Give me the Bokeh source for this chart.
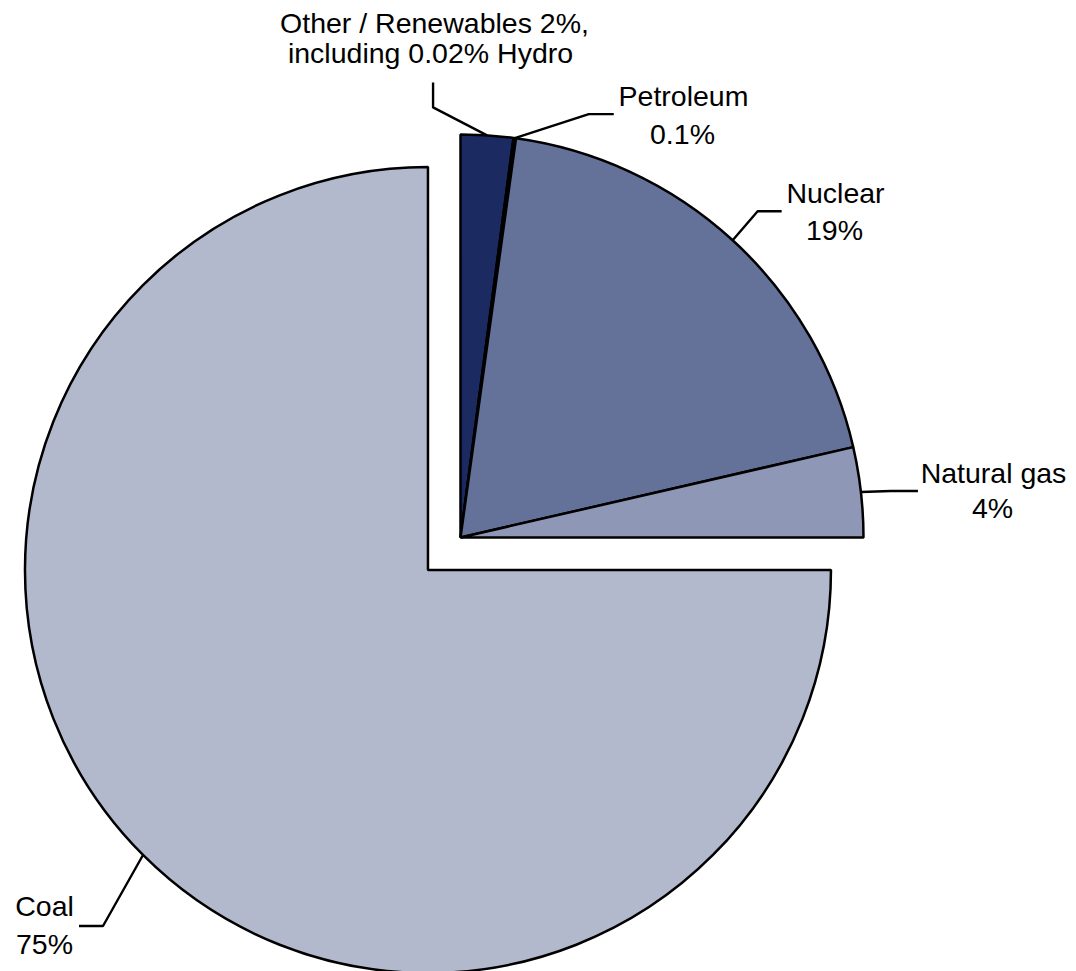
import math
from bokeh.plotting import figure
from bokeh.models import Range1d, ColumnDataSource
from bokeh.core.properties import value
from bokeh.embed import file_html
from bokeh.resources import INLINE

# ---- data (clockwise from 12 o'clock) ----
categories = ["Other / Renewables", "Petroleum", "Nuclear", "Natural gas", "Coal"]
shares = [2.1, 0.1, 19.2, 3.6, 75.0]
label_lines = [
    ["Other / Renewables 2%,", "including 0.02% Hydro"],
    ["Petroleum", "0.1%"],
    ["Nuclear", "19%"],
    ["Natural gas", "4%"],
    ["Coal", "75%"],
]

# ---- styling / layout ----
colors = ["#1B2B62", "#3E4B7D", "#647198", "#8E98B6", "#B3B9CD"]
explode = [0, 0, 0, 0, 46]
CX, CY, R = 460, -537, 403           # screen px, y = -screen_y
FONT = value("Liberation Sans")
FSIZE = "28.5px"
TEXT_SHIFT = -10
# leader offsets from anchor (screen px: dx, dy for elbow and end)
leader_off = [(-54, -28, -54, -53), (74, -24, 99, -24), (25, -29, 49, -29),
              (30, -1, 57, -1), (-40, 71, -64, 71)]
# text line positions (screen x centre, baseline y)
text_pos = [[(434, 32), (430, 62)], [(683, 105), (682, 143)],
            [(835, 202), (834, 239)], [(993, 482), (992, 517)],
            [(44, 915), (44, 953)]]

W, H = 1076, 971
p = figure(width=W, height=H, output_backend="svg", toolbar_location=None,
           x_range=Range1d(0, W), y_range=Range1d(-H, 0),
           x_axis_type=None, y_axis_type=None, min_border=0)
p.outline_line_color = None
p.grid.visible = False
p.background_fill_color = "white"

total = sum(shares)
cum = 0.0
wx, wy, sa, ea, anc = [], [], [], [], []
for s, ex in zip(shares, explode):
    a0 = 90 - 360 * cum / total
    cum += s
    a1 = 90 - 360 * cum / total
    mid = math.radians((a0 + a1) / 2)
    cx = CX + ex * math.cos(mid)
    cy = CY + ex * math.sin(mid)
    wx.append(cx); wy.append(cy)
    sa.append(math.radians(a1)); ea.append(math.radians(a0))
    anc.append((cx + R * math.cos(mid), cy + R * math.sin(mid)))

src = ColumnDataSource(dict(x=wx, y=wy, start=sa, end=ea, color=colors, cat=categories))
p.wedge(x="x", y="y", radius=R, start_angle="start", end_angle="end",
        fill_color="color", line_color="black", line_width=2.5, source=src)

for (ax, ay), (dx1, dy1, dx2, dy2) in zip(anc, leader_off):
    p.line([ax, ax + dx1, ax + dx2], [ay, ay - dy1, ay - dy2],
           line_color="black", line_width=2.4)

tx, ty, tt = [], [], []
for lines, poss in zip(label_lines, text_pos):
    for t, (x, y) in zip(lines, poss):
        tx.append(x); ty.append(-(y + TEXT_SHIFT)); tt.append(t)
p.text(x=tx, y=ty, text=tt, text_font=FONT, text_font_size=FSIZE,
       text_align="center", text_baseline="alphabetic", text_color="black")

open("out.html", "w").write(file_html(p, INLINE))
